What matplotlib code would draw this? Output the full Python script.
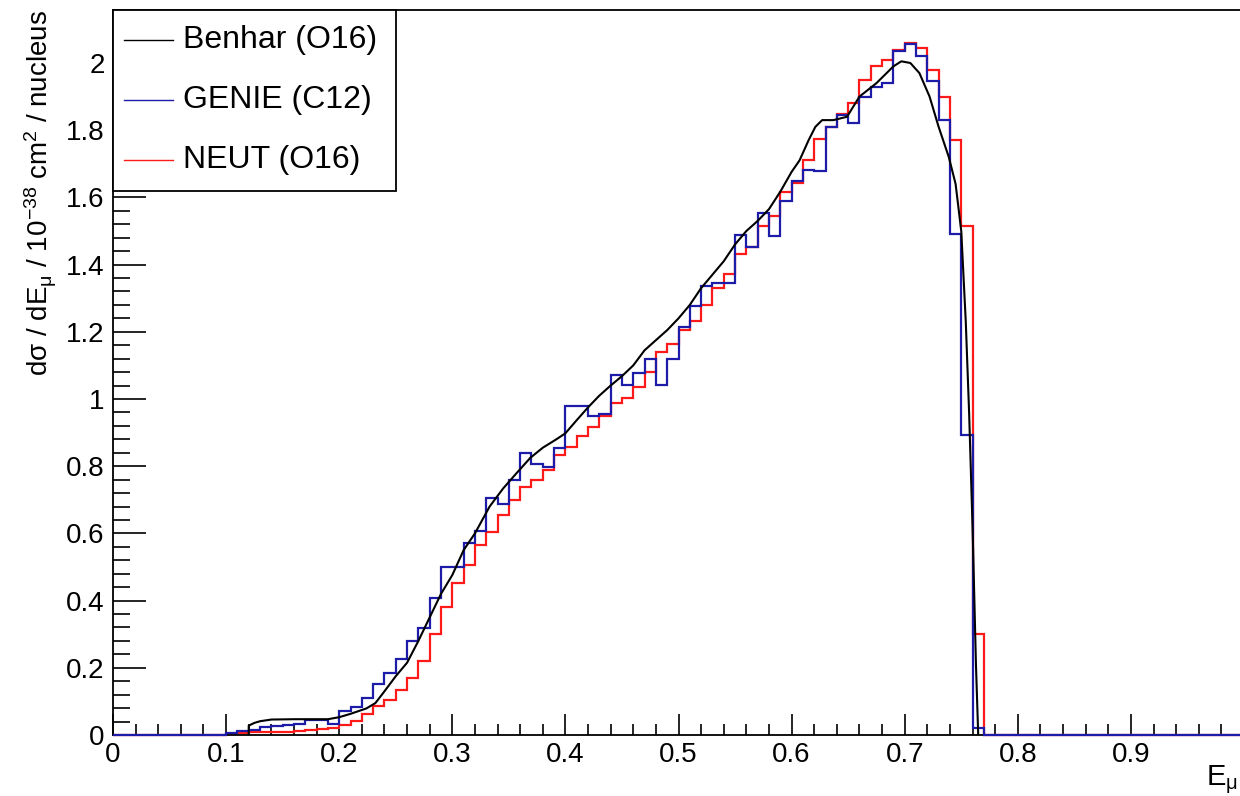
import matplotlib
matplotlib.use("Agg")
import matplotlib.pyplot as plt
import numpy as np
from matplotlib.ticker import MultipleLocator, FormatStrFormatter, FuncFormatter
from matplotlib.patches import Rectangle

plt.rcParams['font.family'] = ['Liberation Sans', 'DejaVu Sans']
plt.rcParams['mathtext.fontset'] = 'custom'
plt.rcParams['mathtext.rm'] = 'Liberation Sans'
plt.rcParams['mathtext.it'] = 'Liberation Sans'

# histogram binning: 100 bins of 0.01 GeV from 0 to 1
bin_edges = np.linspace(0.0, 1.0, 101)
first_bin = 10  # first non-empty bin starts at 0.10

# GENIE (C12), bins 0.10 ... 0.76
genie = [0.006, 0.013, 0.016, 0.024, 0.027, 0.029, 0.032, 0.044, 0.044, 0.034,
         0.071, 0.084, 0.110, 0.151, 0.184, 0.227, 0.280, 0.318, 0.407, 0.501,
         0.501, 0.571, 0.608, 0.704, 0.687, 0.759, 0.840, 0.806, 0.797, 0.854,
         0.980, 0.980, 0.950, 0.955, 1.070, 1.042, 1.078, 1.120, 1.042, 1.118,
         1.213, 1.278, 1.336, 1.346, 1.346, 1.487, 1.453, 1.555, 1.486, 1.589,
         1.650, 1.682, 1.680, 1.810, 1.845, 1.820, 1.900, 1.930, 1.940, 2.035,
         2.057, 2.020, 1.945, 1.830, 1.490, 0.894, 0.020]

# NEUT (O16), bins 0.10 ... 0.76
neut = [0.002, 0.006, 0.008, 0.008, 0.010, 0.010, 0.012, 0.014, 0.017, 0.020,
        0.030, 0.042, 0.062, 0.085, 0.103, 0.135, 0.170, 0.220, 0.300, 0.380,
        0.451, 0.506, 0.565, 0.605, 0.656, 0.699, 0.739, 0.759, 0.790, 0.833,
        0.858, 0.889, 0.917, 0.950, 0.987, 1.002, 1.037, 1.081, 1.141, 1.164,
        1.205, 1.233, 1.280, 1.329, 1.372, 1.431, 1.453, 1.515, 1.545, 1.617,
        1.644, 1.712, 1.775, 1.810, 1.847, 1.880, 1.950, 1.990, 2.010, 2.040,
        2.060, 2.045, 1.980, 1.900, 1.770, 1.515, 0.302]

# Benhar (O16) smooth curve
benhar_x = [0.12, 0.12, 0.125, 0.13, 0.14, 0.16, 0.19, 0.20, 0.21, 0.224, 0.232,
            0.24, 0.25, 0.26, 0.27, 0.28, 0.29, 0.30, 0.31, 0.32, 0.333, 0.345,
            0.357, 0.369, 0.38, 0.392, 0.40, 0.41, 0.42, 0.43, 0.44, 0.45, 0.46,
            0.47, 0.48, 0.49, 0.50, 0.51, 0.52, 0.53, 0.54, 0.55, 0.56, 0.57,
            0.58, 0.59, 0.60, 0.607, 0.615, 0.621, 0.627, 0.637, 0.649, 0.66,
            0.675, 0.69, 0.697, 0.705, 0.713, 0.722, 0.73, 0.739, 0.745, 0.75,
            0.754, 0.757, 0.760, 0.763, 0.765]
benhar_y = [0.0, 0.028, 0.036, 0.041, 0.046, 0.047, 0.047, 0.053, 0.063, 0.079, 0.095,
            0.13, 0.175, 0.215, 0.28, 0.35, 0.42, 0.476, 0.55, 0.60, 0.68, 0.734,
            0.78, 0.825, 0.855, 0.88, 0.898, 0.937, 0.975, 1.01, 1.04, 1.068, 1.10,
            1.145, 1.175, 1.205, 1.24, 1.28, 1.33, 1.37, 1.41, 1.46, 1.50, 1.53,
            1.565, 1.617, 1.676, 1.71, 1.77, 1.81, 1.83, 1.83, 1.84, 1.90,
            1.94, 1.99, 2.005, 2.0, 1.97, 1.90, 1.81, 1.72, 1.64, 1.50,
            1.23, 0.955, 0.617, 0.21, 0.0]

labels = ['Benhar (O16)', 'GENIE (C12)', 'NEUT (O16)']
colors = ['black', '#1c1ca8', '#ff1a1a']


def full_hist(vals):
    h = np.zeros(len(bin_edges) - 1)
    h[first_bin:first_bin + len(vals)] = vals
    return h


W, H = 1240, 796
fig = plt.figure(figsize=(W / 100, H / 100), dpi=100)
ax = fig.add_axes([113 / W, 61 / H, 1131 / W, 725 / H])

ax.stairs(full_hist(neut), bin_edges, color=colors[2], lw=1.6, clip_on=False, zorder=2)
ax.stairs(full_hist(genie), bin_edges, color=colors[1], lw=1.6, clip_on=False, zorder=3)
ax.plot(benhar_x, benhar_y, color=colors[0], lw=1.5, zorder=4)

ax.set_xlim(0, 1.0)
ax.set_ylim(0, 725 / 336)

ax.xaxis.set_major_locator(MultipleLocator(0.1))
ax.xaxis.set_minor_locator(MultipleLocator(0.02))
ax.yaxis.set_major_locator(MultipleLocator(0.2))
ax.yaxis.set_minor_locator(MultipleLocator(0.04))
# the "1" label sits off the right edge of the canvas, leave it blank
ax.xaxis.set_major_formatter(FuncFormatter(lambda v, p: '' if v > 0.95 else '%g' % v))
ax.yaxis.set_major_formatter(FormatStrFormatter('%g'))

ax.tick_params(axis='x', which='major', direction='in', length=15, width=1.2,
               labelsize=20, pad=5)
ax.tick_params(axis='x', which='minor', direction='in', length=8, width=1.2)
ax.tick_params(axis='y', which='major', direction='in', length=24, width=1.2,
               labelsize=20, pad=6)
ax.tick_params(axis='y', which='minor', direction='in', length=12, width=1.2)
for s in ax.spines.values():
    s.set_linewidth(1.3)

ax.set_ylabel('dσ / dE$_{\\mu}$ / 10$^{-38}$ cm$^{2}$ / nucleus', fontsize=20, loc='top')
ax.yaxis.set_label_coords(-0.048, 1.0)

fig.text(1206 / W, 11 / H, 'E$_{\\mu}$', fontsize=21, ha='left', va='baseline')

# legend box in the top left corner
ax.add_patch(Rectangle((0, 0.7503), 0.2502, 0.2497, transform=ax.transAxes,
                       facecolor='white', edgecolor='black', lw=1.3, zorder=5,
                       clip_on=False))
rows = [0.9586, 0.8759, 0.7931]
for lab, col, yy in zip(labels, colors, rows):
    ax.plot([0.0097, 0.053], [yy, yy], color=col, lw=1.0, transform=ax.transAxes,
            zorder=6, clip_on=False)
    ax.text(0.0619, yy, lab, fontsize=23, va='center', ha='left',
            transform=ax.transAxes, zorder=6)

fig.savefig('out.png', dpi=100)
